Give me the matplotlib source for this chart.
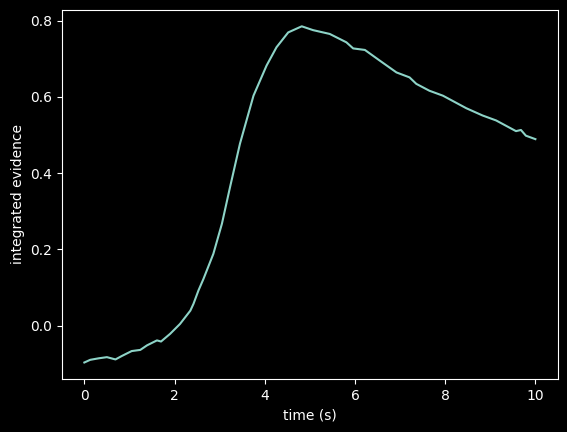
import matplotlib
matplotlib.use('Agg')
import matplotlib.pyplot as plt

plt.style.use('dark_background')

# values
time_s = [0.0, 0.13, 0.32, 0.5, 0.69, 0.83, 1.05, 1.24, 1.39, 1.61, 1.70, 1.90,
          2.12, 2.35, 2.42, 2.53, 2.64, 2.86, 3.05, 3.23, 3.45, 3.75, 4.04, 4.26,
          4.52, 4.82, 5.07, 5.44, 5.81, 5.96, 6.22, 6.55, 6.92, 7.21, 7.36, 7.65,
          7.95, 8.47, 8.83, 9.13, 9.57, 9.68, 9.79, 10.0]
evidence = [-0.097, -0.090, -0.086, -0.083, -0.089, -0.080, -0.067, -0.064, -0.052,
            -0.039, -0.042, -0.022, 0.004, 0.039, 0.057, 0.092, 0.122, 0.188, 0.267,
            0.363, 0.477, 0.603, 0.682, 0.730, 0.769, 0.785, 0.775, 0.765, 0.743,
            0.727, 0.723, 0.695, 0.664, 0.651, 0.634, 0.616, 0.603, 0.570, 0.551,
            0.538, 0.510, 0.513, 0.498, 0.489]

fig = plt.figure(figsize=(5.67, 4.32), dpi=100)
fig.subplots_adjust(left=0.109, right=0.984, top=0.978, bottom=0.122)
ax = fig.gca()

ax.plot(time_s, evidence)
ax.set_xlabel('time (s)')
ax.set_ylabel('integrated evidence')

plt.savefig('out.png', dpi=100)
